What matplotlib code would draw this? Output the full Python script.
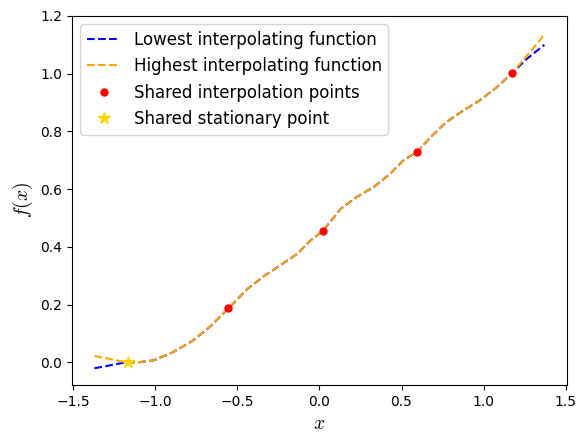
import numpy as np
import matplotlib
matplotlib.use("Agg")
import matplotlib.pyplot as plt

plt.rcParams['mathtext.fontset'] = 'cm'

# values
x_vals = [-1.37, -1.30, -1.25, -1.20, -1.166, -1.10, -1.01, -0.89, -0.77, -0.67,
          -0.556, -0.44, -0.34, -0.24, -0.135, -0.055, 0.02, 0.13, 0.23, 0.33,
          0.43, 0.51, 0.596, 0.68, 0.77, 0.875, 0.975, 1.08, 1.172, 1.26, 1.37]
lowest = [-0.020, -0.013, -0.007, -0.002, 0.0, 0.001, 0.007, 0.036, 0.076, 0.122,
          0.186, 0.254, 0.298, 0.336, 0.376, 0.422, 0.455, 0.532, 0.574, 0.607,
          0.653, 0.699, 0.730, 0.782, 0.831, 0.872, 0.907, 0.953, 1.001, 1.050, 1.100]
highest = [0.022, 0.015, 0.009, 0.003, 0.0, 0.001, 0.007, 0.036, 0.076, 0.122,
           0.186, 0.254, 0.298, 0.336, 0.376, 0.422, 0.455, 0.532, 0.574, 0.607,
           0.653, 0.699, 0.730, 0.782, 0.831, 0.872, 0.907, 0.953, 1.001, 1.060, 1.135]

interp_x = [-0.557, 0.020, 0.596, 1.172]
interp_y = [0.187, 0.455, 0.730, 1.001]
stat_x = [-1.166]
stat_y = [0.0]

fig = plt.figure(figsize=(5.85, 4.43), dpi=100)
ax = fig.add_subplot(111)
fig.subplots_adjust(left=0.123, right=0.969, top=0.964, bottom=0.131)

ax.plot(x_vals, lowest, '--', color='blue', label='Lowest interpolating function')
ax.plot(x_vals, highest, '--', color='orange', label='Highest interpolating function')
ax.plot(interp_x, interp_y, 'o', color='red', markersize=5, label='Shared interpolation points')
ax.plot(stat_x, stat_y, '*', color='gold', markersize=9, label='Shared stationary point')

ax.set_ylim(-0.078, 1.2)
ax.set_xlabel('$x$', fontsize=14)
ax.set_ylabel('$f(x)$', fontsize=14)
ax.legend(loc='upper left', fontsize=12)

fig.savefig('out.png', dpi=100)
